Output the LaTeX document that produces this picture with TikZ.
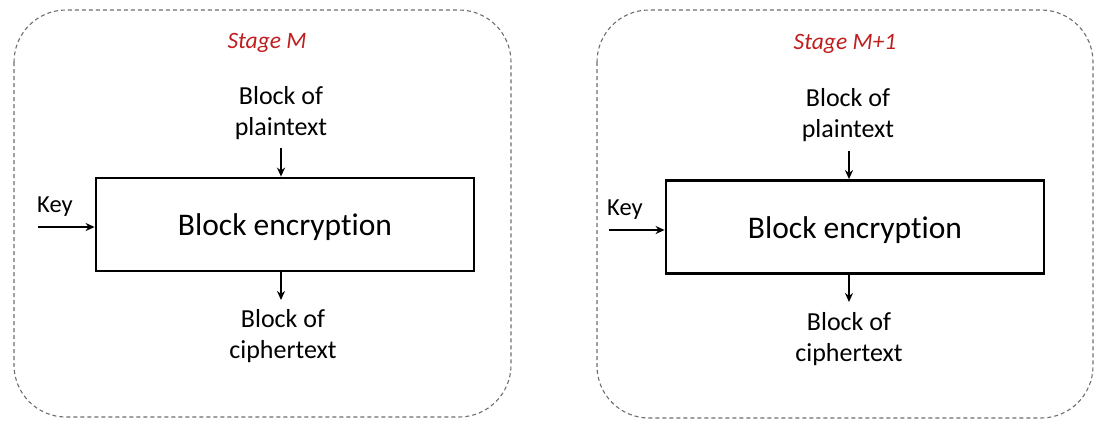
\documentclass[tikz,border=0pt]{standalone}
\usepackage{fontspec}
\setmainfont{Carlito}[Ligatures=NoCommon]
\usetikzlibrary{arrows.meta}
\definecolor{stagered}{RGB}{192,30,30}
\definecolor{dashgray}{RGB}{110,110,110}
\begin{document}
\begin{tikzpicture}[x=1pt,y=-1pt,
  panel/.style={draw=dashgray,dashed,line width=1.1pt,rounded corners=52pt,dash pattern=on 4pt off 3pt},
  encbox/.style={draw=black,line width=2.8pt,minimum width=378pt,minimum height=93pt,inner sep=0pt,text height=22pt,text depth=0pt,font=\fontsize{31.5}{36}\selectfont},
  lbl/.style={align=center,font=\fontsize{26}{31}\selectfont,inner sep=0pt},
  keylbl/.style={font=\fontsize{24.5}{28}\selectfont,inner sep=0pt},
  stagelbl/.style={text=stagered,font=\fontsize{23.5}{26}\selectfont\itshape,inner sep=0pt},
  arr/.style={-{Stealth[length=9pt,width=8pt]},line width=2.3pt}]
\useasboundingbox (0,0) rectangle (1110,434);
% left panel
\draw[panel] (14,10) rectangle (511,417);
\node[stagelbl] (s1) at (267,43) {Stage M};
\node[lbl] (p1) at (281,113) {Block of\\plaintext};
\node[encbox] (b1) at (285,224.5) {Block encryption};
\node[lbl] (c1) at (283,336) {Block of\\ciphertext};
\node[keylbl,anchor=west] (k1) at (37,207) {Key};
\coordinate (k1s) at (38,227);
\coordinate (p1e) at (281,148);
\coordinate (c1e) at (281,300);
\draw[arr] (p1e) -- (p1e |- b1.north);
\draw[arr] (c1e |- b1.south) -- (c1e);
\draw[arr] (k1s) -- (k1s -| b1.west);
% right panel
\draw[panel] (597,10) rectangle (1093,418);
\node[stagelbl] (s2) at (845,44) {Stage M+1};
\node[lbl] (p2) at (848,115) {Block of\\plaintext};
\node[encbox] (b2) at (855,227) {Block encryption};
\node[lbl] (c2) at (849,339) {Block of\\ciphertext};
\node[keylbl,anchor=west] (k2) at (607,210) {Key};
\coordinate (k2s) at (609,230);
\coordinate (p2e) at (849,151);
\coordinate (c2e) at (849,302);
\draw[arr] (p2e) -- (p2e |- b2.north);
\draw[arr] (c2e |- b2.south) -- (c2e);
\draw[arr] (k2s) -- (k2s -| b2.west);
\end{tikzpicture}
\end{document}
